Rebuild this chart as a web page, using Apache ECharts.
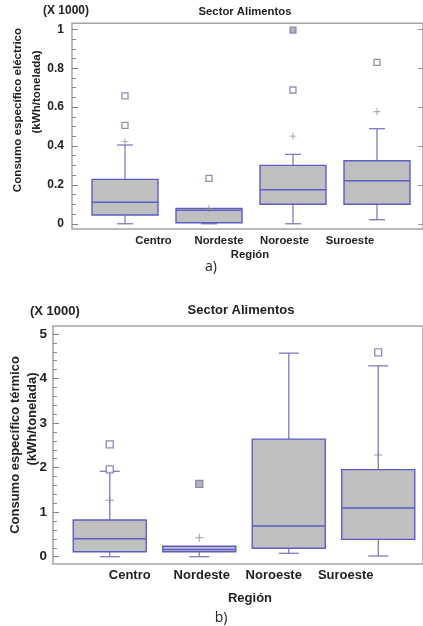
<!DOCTYPE html>
<html>
<head>
<meta charset="utf-8">
<script src="https://cdn.jsdelivr.net/npm/echarts@6/dist/echarts.min.js"></script>
<style>
html,body{margin:0;padding:0;background:#fff;}
#chart{width:423px;height:626px;}
</style>
</head>
<body>
<div id="chart"></div>
<script>
// ---- Data ----
const categories = ['Centro', 'Nordeste', 'Noroeste', 'Suroeste'];

// Chart a) electric: [lower whisker, Q1, median, Q3, upper whisker]
const elecBox = [
  [0, 0.045, 0.11, 0.228, 0.405],
  [0, 0.005, 0.069, 0.079, 0.079],
  [0, 0.10, 0.175, 0.30, 0.357],
  [0.021, 0.10, 0.221, 0.324, 0.489]
];
const elecMean = [0.422, 0.078, 0.451, 0.576];
const elecOutHollow = [[0, 0.658], [0, 0.506], [1, 0.233], [2, 0.688], [3, 0.83]];
const elecOutFilled = [[2, 0.996]];
const elecTicks = [0, 0.2, 0.4, 0.6, 0.8, 1];
const elecMinorTicks = [0.05,0.1,0.15,0.25,0.3,0.35,0.45,0.5,0.55,0.65,0.7,0.75,0.85,0.9,0.95];

// Chart b) thermal
const thermBox = [
  [0, 0.112, 0.404, 0.824, 1.918],
  [0, 0.11, 0.16, 0.235, 0.235],
  [0.076, 0.19, 0.689, 2.64, 4.57],
  [0.016, 0.39, 1.094, 1.955, 4.285]
];
const thermMean = [1.266, 0.427, null, 2.284];
const thermOutHollow = [[0, 2.524], [0, 1.96], [3, 4.59]];
const thermOutFilled = [[1, 1.633]];
const thermTicks = [0, 1, 2, 3, 4, 5];
const thermMinorTicks = [0.2,0.4,0.6,0.8,1.2,1.4,1.6,1.8,2.2,2.4,2.6,2.8,3.2,3.4,3.6,3.8,4.2,4.4,4.6,4.8];

// ---- Styles ----
const FONT = "'Liberation Sans', Arial, sans-serif";
const FRAME = '#a3a3a3';
const BOX_FILL = '#c0c0c0';
const BOX_EDGE = '#5c5cc6';
const WHISK = '#7c7cbe';

function boxRenderer(boxW, capW) {
  return function (params, api) {
    const c = api.value(0);
    const x = api.coord([c, 0])[0];
    const y = v => api.coord([c, v])[1];
    const yMin = y(api.value(1)), yQ1 = y(api.value(2)), yMed = y(api.value(3)),
          yQ3 = y(api.value(4)), yMax = y(api.value(5));
    const ls = { stroke: WHISK, lineWidth: 1.3 };
    const kids = [];
    if (yMax < yQ3 - 0.5) {
      kids.push({ type: 'line', shape: { x1: x, y1: yQ3, x2: x, y2: yMax }, style: ls });
      kids.push({ type: 'line', shape: { x1: x - capW / 2, y1: yMax, x2: x + capW / 2, y2: yMax }, style: ls });
    }
    if (yMin > yQ1 + 0.5) {
      kids.push({ type: 'line', shape: { x1: x, y1: yQ1, x2: x, y2: yMin }, style: ls });
      kids.push({ type: 'line', shape: { x1: x - capW / 2, y1: yMin, x2: x + capW / 2, y2: yMin }, style: ls });
    }
    kids.push({ type: 'rect', shape: { x: x - boxW / 2, y: yQ3, width: boxW, height: yQ1 - yQ3 },
      style: { fill: BOX_FILL, stroke: BOX_EDGE, lineWidth: 1.4 } });
    kids.push({ type: 'line', shape: { x1: x - boxW / 2, y1: yMed, x2: x + boxW / 2, y2: yMed },
      style: { stroke: BOX_EDGE, lineWidth: 1.5 } });
    return { type: 'group', children: kids };
  };
}

const plusPath = 'path://M0,4.4H10V5.6H0Z M4.4,0H5.6V10H4.4Z';

function toBoxData(arr) { return arr.map((b, i) => [i].concat(b)); }
function toMeanData(arr) { return arr.map((v, i) => v == null ? null : [i, v]).filter(d => d); }

// Geometry
const A = { top: 23.3, height: 205.7, ymin: -0.027, ymax: 1.031 };
const B = { top: 326, height: 238, ymin: -0.164, ymax: 5.18 };

const chart = echarts.init(document.getElementById('chart'), null, { renderer: 'canvas' });

const tickLabelStyle = (size) => ({ fontFamily: FONT, fontWeight: 'bold', fontSize: size, color: '#222' });

const option = {
  animation: false,
  backgroundColor: '#fff',
  grid: [
    { left: 72, right: -2, top: A.top, height: A.height, show: true, borderColor: FRAME, borderWidth: 1.5, backgroundColor: '#fff' },
    { left: 83, width: 336, top: A.top, height: A.height },
    { left: 120.75, width: 262, top: A.top, height: A.height },
    { left: 53, right: -2, top: B.top, height: B.height, show: true, borderColor: FRAME, borderWidth: 1.5, backgroundColor: '#fff' },
    { left: 65, width: 360, top: B.top, height: B.height },
    { left: 93.75, width: 288, top: B.top, height: B.height }
  ],
  xAxis: [
    { gridIndex: 0, type: 'value', min: 0, max: 1, show: false },
    { gridIndex: 1, type: 'category', data: categories, show: false },
    { gridIndex: 2, type: 'category', data: categories, axisLine: { show: false }, axisTick: { show: false },
      axisLabel: Object.assign({ margin: 6, interval: 0 }, tickLabelStyle(11.3)) },
    { gridIndex: 3, type: 'value', min: 0, max: 1, show: false },
    { gridIndex: 4, type: 'category', data: categories, show: false },
    { gridIndex: 5, type: 'category', data: categories, axisLine: { show: false }, axisTick: { show: false },
      axisLabel: Object.assign({ margin: 5, interval: 0 }, tickLabelStyle(13)) }
  ],
  yAxis: [
    { gridIndex: 0, type: 'value', position: 'left', min: A.ymin, max: A.ymax, splitLine: { show: false }, axisLine: { show: false },
      axisTick: { show: true, inside: true, length: 6, customValues: elecTicks, lineStyle: { color: '#808080' } },
      axisLabel: Object.assign({ margin: 8, customValues: elecTicks, formatter: v => String(+v.toFixed(1)) }, tickLabelStyle(12)) },
    { gridIndex: 0, type: 'value', position: 'left', offset: 0, min: A.ymin, max: A.ymax, splitLine: { show: false }, axisLine: { show: false },
      axisTick: { show: true, inside: true, length: 4, customValues: elecMinorTicks, lineStyle: { color: '#8c8c8c' } },
      axisLabel: { show: false } },
    { gridIndex: 0, type: 'value', position: 'right', offset: 0, min: A.ymin, max: A.ymax, splitLine: { show: false }, axisLine: { show: false },
      axisTick: { show: true, inside: true, length: 5, customValues: elecTicks, lineStyle: { color: '#999' } },
      axisLabel: { show: false } },
    { gridIndex: 1, type: 'value', min: A.ymin, max: A.ymax, show: false },
    { gridIndex: 2, type: 'value', min: A.ymin, max: A.ymax, show: false },
    { gridIndex: 3, type: 'value', position: 'left', min: B.ymin, max: B.ymax, splitLine: { show: false }, axisLine: { show: false },
      axisTick: { show: true, inside: true, length: 6, customValues: thermTicks, lineStyle: { color: '#808080' } },
      axisLabel: Object.assign({ margin: 6, customValues: thermTicks }, tickLabelStyle(13.5)) },
    { gridIndex: 3, type: 'value', position: 'left', offset: 0, min: B.ymin, max: B.ymax, splitLine: { show: false }, axisLine: { show: false },
      axisTick: { show: true, inside: true, length: 4, customValues: thermMinorTicks, lineStyle: { color: '#8c8c8c' } },
      axisLabel: { show: false } },
    { gridIndex: 4, type: 'value', min: B.ymin, max: B.ymax, show: false },
    { gridIndex: 5, type: 'value', min: B.ymin, max: B.ymax, show: false }
  ],
  graphic: [
    { type: 'text', left: 43, top: 5, style: { text: '(X 1000)', font: "bold 12px 'Liberation Sans', Arial", fill: '#222' } },
    { type: 'text', x: 245, y: 12, style: { text: 'Sector Alimentos', font: "bold 11.3px 'Liberation Sans', Arial", fill: '#222', textAlign: 'center', textVerticalAlign: 'middle' } },
    { type: 'text', x: 18, y: 110, rotation: Math.PI / 2, style: { text: 'Consumo específico eléctrico', font: "bold 11.6px 'Liberation Sans', Arial", fill: '#222', textAlign: 'center', textVerticalAlign: 'middle' } },
    { type: 'text', x: 37, y: 92, rotation: Math.PI / 2, style: { text: '(kWh/tonelada)', font: "bold 11.6px 'Liberation Sans', Arial", fill: '#222', textAlign: 'center', textVerticalAlign: 'middle' } },
    { type: 'text', x: 250, y: 255, style: { text: 'Región', font: "bold 11.3px 'Liberation Sans', Arial", fill: '#222', textAlign: 'center', textVerticalAlign: 'middle' } },
    { type: 'text', x: 211, y: 267, style: { text: 'a)', font: "14px 'Open Sans', 'Liberation Sans', Arial", fill: '#222', textAlign: 'center', textVerticalAlign: 'middle' } },

    { type: 'text', left: 30, top: 305, style: { text: '(X 1000)', font: "bold 13px 'Liberation Sans', Arial", fill: '#222' } },
    { type: 'text', x: 241, y: 310, style: { text: 'Sector Alimentos', font: "bold 13px 'Liberation Sans', Arial", fill: '#222', textAlign: 'center', textVerticalAlign: 'middle' } },
    { type: 'text', x: 15, y: 445, rotation: Math.PI / 2, style: { text: 'Consumo específico térmico', font: "bold 13px 'Liberation Sans', Arial", fill: '#222', textAlign: 'center', textVerticalAlign: 'middle' } },
    { type: 'text', x: 32, y: 419, rotation: Math.PI / 2, style: { text: '(kWh/tonelada)', font: "bold 13px 'Liberation Sans', Arial", fill: '#222', textAlign: 'center', textVerticalAlign: 'middle' } },
    { type: 'text', x: 250, y: 598, style: { text: 'Región', font: "bold 13px 'Liberation Sans', Arial", fill: '#222', textAlign: 'center', textVerticalAlign: 'middle' } },
    { type: 'text', x: 221, y: 618, style: { text: 'b)', font: "14px 'Open Sans', 'Liberation Sans', Arial", fill: '#222', textAlign: 'center', textVerticalAlign: 'middle' } }
  ],
  series: [
    { type: 'custom', xAxisIndex: 1, yAxisIndex: 3, renderItem: boxRenderer(66, 16), encode: { x: 0, y: [1, 2, 3, 4, 5] }, data: toBoxData(elecBox), z: 2 },
    { type: 'scatter', xAxisIndex: 1, yAxisIndex: 3, symbol: 'rect', symbolSize: 6, data: elecOutHollow,
      itemStyle: { color: '#fff', borderColor: '#7474a4', borderWidth: 1.3 }, z: 3 },
    { type: 'scatter', xAxisIndex: 1, yAxisIndex: 3, symbol: 'rect', symbolSize: 6, data: elecOutFilled,
      itemStyle: { color: '#a0a0b0', borderColor: '#7474a4', borderWidth: 1.3 }, z: 3 },
    { type: 'scatter', xAxisIndex: 1, yAxisIndex: 3, symbol: plusPath, symbolSize: 7, data: toMeanData(elecMean),
      itemStyle: { color: '#8c7c70' }, z: 4 },

    { type: 'custom', xAxisIndex: 4, yAxisIndex: 7, renderItem: boxRenderer(73, 20), encode: { x: 0, y: [1, 2, 3, 4, 5] }, data: toBoxData(thermBox), z: 2 },
    { type: 'scatter', xAxisIndex: 4, yAxisIndex: 7, symbol: 'rect', symbolSize: 7, data: thermOutHollow,
      itemStyle: { color: '#fff', borderColor: '#6e6eaa', borderWidth: 1.3 }, z: 3 },
    { type: 'scatter', xAxisIndex: 4, yAxisIndex: 7, symbol: 'rect', symbolSize: 7, data: thermOutFilled,
      itemStyle: { color: '#a0a0b0', borderColor: '#7474a4', borderWidth: 1.3 }, z: 3 },
    { type: 'scatter', xAxisIndex: 4, yAxisIndex: 7, symbol: plusPath, symbolSize: 8, data: toMeanData(thermMean),
      itemStyle: { color: '#7e7e98' }, z: 4 }
  ]
};
chart.setOption(option);
</script>
</body>
</html>
